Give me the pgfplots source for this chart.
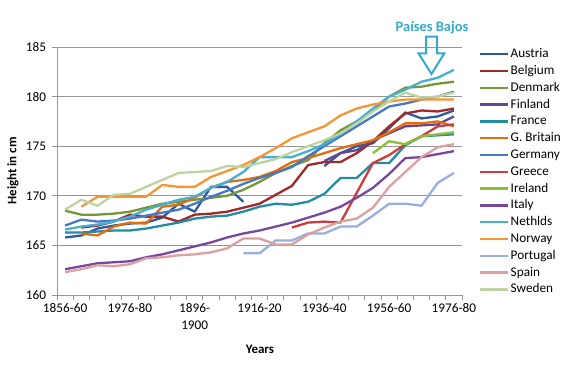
\documentclass[border=0pt]{standalone}
\usepackage{fontspec}
\setmainfont{Carlito}
\usepackage{pgfplots}
\usepackage{pgfplotstable}
\pgfplotsset{compat=1.18}
\definecolor{cAustria}{RGB}{44,90,160}
\definecolor{cBelgium}{RGB}{160,40,40}
\definecolor{cDenmark}{RGB}{119,150,55}
\definecolor{cFinland}{RGB}{100,70,150}
\definecolor{cFrance}{RGB}{35,140,165}
\definecolor{cGBritain}{RGB}{228,108,10}
\definecolor{cGermany}{RGB}{70,120,200}
\definecolor{cGreece}{RGB}{205,60,60}
\definecolor{cIreland}{RGB}{140,190,60}
\definecolor{cItaly}{RGB}{120,70,160}
\definecolor{cNethlds}{RGB}{70,175,210}
\definecolor{cNorway}{RGB}{245,150,50}
\definecolor{cPortugal}{RGB}{150,175,220}
\definecolor{cSpain}{RGB}{220,160,160}
\definecolor{cSweden}{RGB}{190,212,160}
\definecolor{gridgray}{RGB}{150,150,150}
\definecolor{pbcolor}{RGB}{50,170,205}

\pgfplotstableread{
i Austria Belgium Denmark Finland France GBritain Germany Greece Ireland Italy Nethlds Norway Portugal Spain Sweden
0  165.8 nan   168.5 nan   166.3 nan   167.0 nan   nan   162.6 166.6 nan   nan   162.3 168.6
1  166.0 166.8 168.1 nan   166.3 166.2 167.6 nan   nan   162.9 166.9 168.9 nan   162.6 169.6
2  166.7 167.0 168.1 nan   166.4 166.0 167.4 nan   nan   163.2 167.1 169.9 nan   163.0 169.0
3  167.0 167.4 168.2 nan   166.5 166.9 167.5 nan   nan   163.3 167.4 169.9 nan   162.9 170.1
4  167.2 168.1 168.4 nan   166.5 167.3 167.7 nan   nan   163.4 167.9 169.9 nan   163.1 170.2
5  167.3 167.9 168.8 nan   166.7 167.2 168.0 nan   nan   163.8 168.6 169.9 nan   163.7 170.9
6  167.8 167.9 169.2 nan   167.0 168.9 168.3 nan   nan   164.1 169.1 171.1 nan   163.8 171.6
7  169.2 167.4 169.4 nan   167.3 169.1 168.6 nan   nan   164.5 169.6 170.9 nan   164.0 172.3
8  168.4 168.1 169.6 nan   167.7 169.8 169.2 nan   nan   164.9 169.9 170.9 nan   164.1 172.4
9  170.9 168.2 169.8 nan   167.9 170.8 169.9 nan   nan   165.3 170.8 171.9 nan   164.3 172.5
10 170.9 168.4 170.0 nan   168.0 171.4 170.5 nan   nan   165.8 171.4 172.5 nan   164.7 173.0
11 169.4 168.8 170.6 nan   168.4 171.6 171.2 nan   nan   166.2 172.4 173.1 164.2 165.7 172.9
12 nan   169.2 171.4 nan   168.9 171.9 171.8 nan   nan   166.5 173.9 173.9 164.2 165.7 173.3
13 nan   170.1 172.3 nan   169.2 172.5 172.3 nan   nan   166.9 173.9 174.8 165.5 165.1 173.7
14 nan   171.0 173.0 nan   169.1 173.4 172.9 166.8 nan   167.3 173.9 175.8 165.5 165.1 174.4
15 nan   173.1 173.6 nan   169.4 173.8 174.0 167.3 nan   167.8 174.5 176.4 166.2 166.1 175.0
16 173.0 173.4 175.3 173.5 170.2 174.3 175.0 167.4 nan   168.3 175.2 177.0 166.2 166.8 175.6
17 174.3 173.4 176.6 174.3 171.8 174.8 176.0 167.3 nan   168.9 176.2 178.1 166.9 167.4 176.3
18 175.0 174.3 177.5 174.6 171.8 175.2 177.0 170.3 nan   169.8 177.5 178.8 166.9 167.7 177.3
19 175.3 175.5 178.6 175.6 173.3 175.6 178.0 173.3 174.3 170.8 178.8 179.2 168.0 168.8 178.5
20 176.8 177.0 180.0 176.3 173.3 176.4 179.0 174.1 175.5 172.2 180.0 179.5 169.2 170.9 179.5
21 178.4 178.3 180.9 177.0 175.1 177.3 179.3 175.2 175.2 173.8 180.7 179.7 169.2 172.4 180.4
22 177.8 178.6 181.0 177.1 176.0 177.3 179.7 176.0 176.0 173.9 181.5 179.7 169.0 173.9 179.9
23 178.0 178.5 181.3 177.2 176.1 177.5 180.0 177.0 176.2 174.2 181.9 179.7 171.3 174.9 180.0
24 178.6 178.8 181.5 178.0 176.2 177.0 180.5 177.2 176.4 174.5 182.7 179.7 172.3 175.2 180.4
}\data

\begin{document}
\begin{tikzpicture}[x=1bp,y=1bp]
\path (0,0) rectangle (569,366);
\begin{axis}[
  at={(57bp,71bp)}, anchor=south west,
  scale only axis, width=405bp, height=248bp,
  xmin=-0.5, xmax=24.5, ymin=160, ymax=185,
  axis x line*=bottom, axis y line*=left,
  axis line style={draw=gridgray, line width=0.8bp},
  every tick/.style={gridgray, line width=0.8bp},
  tick align=outside,
  major tick length=5bp, minor tick length=5bp,
  ytick={160,165,...,185},
  ymajorgrids, major grid style={gridgray, line width=0.8bp},
  xtick={0,4,...,24},
  xticklabels={1856-60,1976-80,{1896-\\1900},1916-20,1936-40,1956-60,1976-80},
  major x tick style={draw=none},
  minor xtick={-0.5,0.5,...,24.5},
  /pgf/number format/assume math mode=true,
  tick label style={font=\fontsize{13.3}{17}\selectfont, text=black},
  x tick label style={align=center},
  y tick label style={xshift=-2.5bp},
  xlabel={Years}, ylabel={Height in cm},
  xlabel style={font=\bfseries\fontsize{13}{15}\selectfont, at={(axis description cs:0.501,-0.218)}, anchor=center},
  ylabel style={font=\bfseries\fontsize{13}{15}\selectfont, at={(axis description cs:-0.109,0.5)}, anchor=center},
  unbounded coords=jump,
  every axis plot/.append style={line width=2.3bp, line join=round, no markers},
  legend style={draw=none, fill=none, at={(1.042,1.0)}, anchor=north west,
    font=\fontsize{13.3}{16}\selectfont, row sep=2.8bp, inner sep=0pt,
    nodes={inner sep=1bp, text height=9.5bp, text depth=2.5bp}},
  legend cell align=left,
  legend image code/.code={\draw[#1, line width=2.5bp] (0bp,0bp) -- (28bp,0bp);},
]
\addplot[cAustria] table[x=i,y=Austria]{\data};
\addlegendentry{Austria}
\addplot[cBelgium] table[x=i,y=Belgium]{\data};
\addlegendentry{Belgium}
\addplot[cDenmark] table[x=i,y=Denmark]{\data};
\addlegendentry{Denmark}
\addplot[cFinland] table[x=i,y=Finland]{\data};
\addlegendentry{Finland}
\addplot[cFrance] table[x=i,y=France]{\data};
\addlegendentry{France}
\addplot[cGBritain] table[x=i,y=GBritain]{\data};
\addlegendentry{G. Britain}
\addplot[cGermany] table[x=i,y=Germany]{\data};
\addlegendentry{Germany}
\addplot[cGreece] table[x=i,y=Greece]{\data};
\addlegendentry{Greece}
\addplot[cIreland] table[x=i,y=Ireland]{\data};
\addlegendentry{Ireland}
\addplot[cItaly] table[x=i,y=Italy]{\data};
\addlegendentry{Italy}
\addplot[cNethlds] table[x=i,y=Nethlds]{\data};
\addlegendentry{Nethlds}
\addplot[cNorway] table[x=i,y=Norway]{\data};
\addlegendentry{Norway}
\addplot[cPortugal] table[x=i,y=Portugal]{\data};
\addlegendentry{Portugal}
\addplot[cSpain] table[x=i,y=Spain]{\data};
\addlegendentry{Spain}
\addplot[cSweden] table[x=i,y=Sweden]{\data};
\addlegendentry{Sweden}
\end{axis}
\node[font=\bfseries\fontsize{14.5}{17}\selectfont, text=pbcolor] at (432,338) {Países Bajos};
\draw[pbcolor, line width=2bp, line join=miter] (426,329.3) -- (437,329.3) -- (437,312.7) -- (444.3,312.7) -- (431.5,292) -- (418.5,312.7) -- (426,312.7) -- cycle;
\end{tikzpicture}
\end{document}
